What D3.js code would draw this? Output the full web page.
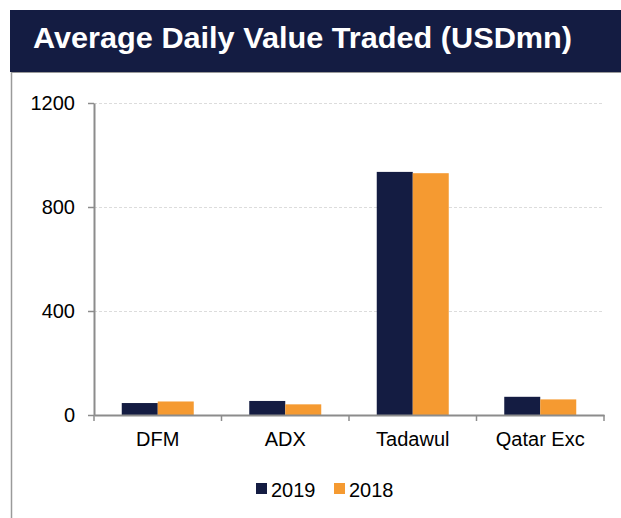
<!DOCTYPE html>
<html>
<head>
<meta charset="utf-8">
<script src="https://cdn.jsdelivr.net/npm/d3@7"></script>
<style>
  body { margin: 0; background: #fff; }
  svg { display: block; font-family: "Liberation Sans", Arial, sans-serif; }
</style>
</head>
<body>
<svg id="chart" width="621" height="518"></svg>
<script>
const categories = ['DFM', 'ADX', 'Tadawul', 'Qatar Exc']
const seriesNames = ['2019', '2018']
const values2019 = [46, 54, 935, 70]
const values2018 = [52, 41, 930, 60]
const yTicks = [0, 400, 800, 1200]
const colors = ['#141c42', '#f59a31']

const width = 621
const height = 518
const margin = { top: 103, right: 17, bottom: 103, left: 94 }
const chartWidth = width - margin.left - margin.right
const chartHeight = height - margin.top - margin.bottom
const labelFont = 20

const data = categories.map((c, i) => ({
  key: c,
  values: [values2019[i], values2018[i]],
}))

const svg = d3.select('#chart')

// title band
svg.append('rect')
  .attr('x', 10).attr('y', 10)
  .attr('width', width - 10).attr('height', 62)
  .attr('fill', '#141c42')

svg.append('text')
  .attr('x', 33).attr('y', 48)
  .attr('fill', '#fff')
  .attr('font-size', 30)
  .attr('font-weight', 'bold')
  .attr('textLength', 539)
  .attr('lengthAdjust', 'spacingAndGlyphs')
  .text('Average Daily Value Traded (USDmn)')

// frame lines under the band
svg.append('line')
  .attr('x1', 11).attr('x2', width).attr('y1', 72.5).attr('y2', 72.5)
  .attr('stroke', '#9a9a9a').attr('stroke-width', 1)
svg.append('line')
  .attr('x1', 11.5).attr('x2', 11.5).attr('y1', 72).attr('y2', height)
  .attr('stroke', '#9a9a9a').attr('stroke-width', 1.5)

const x = d3.scaleBand().domain(categories).range([0, chartWidth])
const xInner = d3.scaleBand().domain(seriesNames)
  .range([0, 72]).padding(0)
const y = d3.scaleLinear().domain([0, 1200]).range([chartHeight, 0])

const g = svg.append('g')
  .attr('transform', `translate(${margin.left},${margin.top})`)

// gridlines
g.append('g')
  .selectAll('line')
  .data(yTicks.filter((d) => d > 0))
  .join('line')
  .attr('x1', 0).attr('x2', chartWidth)
  .attr('y1', (d) => Math.round(y(d)) + 0.5)
  .attr('y2', (d) => Math.round(y(d)) + 0.5)
  .attr('stroke', '#dcdcdc')
  .attr('stroke-dasharray', '3,2')

// bars
const groups = g.append('g')
  .selectAll('g')
  .data(data)
  .join('g')
  .attr('transform', (d) => `translate(${x(d.key) + (x.bandwidth() - 72) / 2},0)`)

groups.selectAll('rect')
  .data((d) => d.values.map((v, i) => ({ s: seriesNames[i], v, i })))
  .join('rect')
  .attr('x', (d) => xInner(d.s))
  .attr('y', (d) => y(d.v))
  .attr('width', xInner.bandwidth())
  .attr('height', (d) => chartHeight - y(d.v))
  .attr('fill', (d) => colors[d.i])

// y axis
const yAxis = g.append('g')
  .call(d3.axisLeft(y).tickValues(yTicks).tickFormat(d3.format('d'))
    .tickSize(6).tickSizeOuter(0).tickPadding(13))
yAxis.select('.domain').attr('stroke', '#8c8c8c').attr('stroke-width', 2)
yAxis.selectAll('.tick line').attr('stroke', '#8c8c8c').attr('stroke-width', 1.5)
yAxis.selectAll('text')
  .attr('font-size', labelFont)
  .attr('font-family', '"Liberation Sans", Arial, sans-serif')
  .attr('fill', '#000')

// x axis
const xAxis = g.append('g')
  .attr('transform', `translate(0,${chartHeight})`)
  .call(d3.axisBottom(x).tickSize(0).tickPadding(17))
xAxis.select('.domain').attr('stroke', '#8c8c8c').attr('stroke-width', 2)
xAxis.selectAll('text')
  .attr('font-size', labelFont)
  .attr('font-family', '"Liberation Sans", Arial, sans-serif')
  .attr('fill', '#000')

// category boundary ticks
g.append('g')
  .selectAll('line')
  .data(categories.map((c) => x(c)).concat([chartWidth]))
  .join('line')
  .attr('x1', (d) => d).attr('x2', (d) => d)
  .attr('y1', chartHeight).attr('y2', chartHeight + 6)
  .attr('stroke', '#8c8c8c').attr('stroke-width', 1.5)

// legend
const legend = svg.append('g').attr('transform', 'translate(256,483)')
const items = legend.selectAll('g')
  .data(seriesNames)
  .join('g')
  .attr('transform', (d, i) => `translate(${i * 78},0)`)
items.append('rect')
  .attr('width', 11).attr('height', 11)
  .attr('fill', (d, i) => colors[i])
items.append('text')
  .attr('x', 15).attr('y', 13.5)
  .attr('font-size', labelFont)
  .attr('fill', '#000')
  .text((d) => d)
</script>
</body>
</html>
